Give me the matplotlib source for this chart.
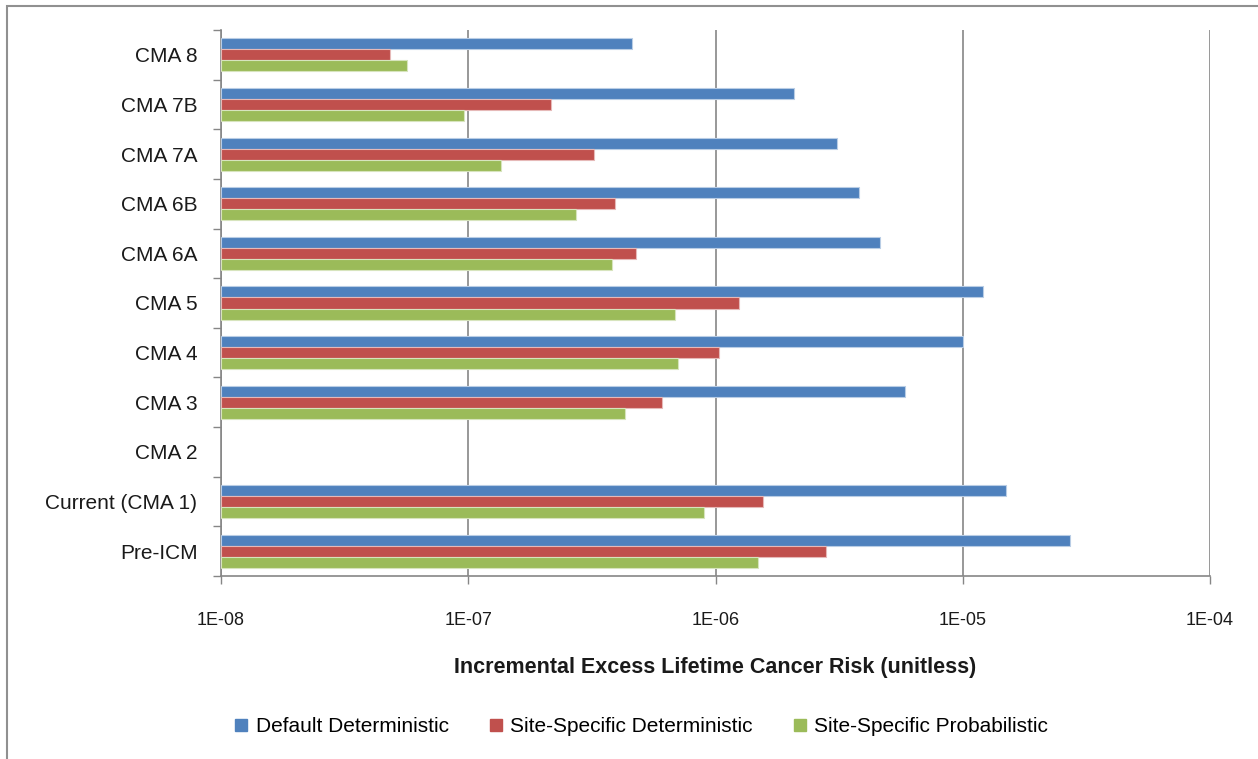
import matplotlib
matplotlib.use("Agg")
import matplotlib.pyplot as plt
import numpy as np
from matplotlib.patches import Rectangle
from matplotlib.lines import Line2D
from matplotlib.ticker import FixedLocator, NullFormatter

plt.rcParams['font.family'] = ['Liberation Sans', 'DejaVu Sans']

# Categories listed bottom to top
categories = ["Pre-ICM", "Current (CMA 1)", "CMA 2", "CMA 3", "CMA 4", "CMA 5",
              "CMA 6A", "CMA 6B", "CMA 7A", "CMA 7B", "CMA 8"]

default_det = [2.72e-5, 1.50e-5, np.nan, 5.86e-6, 1.0e-5, 1.205e-5,
               4.62e-6, 3.80e-6, 3.09e-6, 2.07e-6, 4.61e-7]
site_det = [2.80e-6, 1.55e-6, np.nan, 6.05e-7, 1.03e-6, 1.24e-6,
            4.77e-7, 3.94e-7, 3.23e-7, 2.17e-7, 4.82e-8]
site_prob = [1.49e-6, 9.0e-7, np.nan, 4.31e-7, 7.08e-7, 6.87e-7,
             3.83e-7, 2.72e-7, 1.36e-7, 9.6e-8, 5.67e-8]

series_names = ["Default Deterministic", "Site-Specific Deterministic",
                "Site-Specific Probabilistic"]
colors = ["#4F81BD", "#C0504D", "#9BBB59"]
edge_colors = ["#B9CDE5", "#E6B9B8", "#D7E4BD"]

xticks = [1e-8, 1e-7, 1e-6, 1e-5, 1e-4]
xtick_labels = ["1E-08", "1E-07", "1E-06", "1E-05", "1E-04"]
x_min, x_max = 1e-8, 1e-4

W, H = 1258, 759
fig = plt.figure(figsize=(W / 100, H / 100), dpi=100)
ax = fig.add_axes([221 / W, 1 - 576 / H, (1210 - 221) / W, (576 - 30) / H])

y = np.arange(len(categories))
h = 0.222
offsets = [h, 0, -h]
for vals, off, c, ec in zip([default_det, site_det, site_prob], offsets, colors, edge_colors):
    vals = np.array(vals, dtype=float)
    # bars start at the axis minimum and end at the value
    ax.barh(y + off, vals - x_min, height=h, left=x_min, color=c, edgecolor=ec,
            linewidth=0.8, zorder=3)

ax.set_xscale("log")
ax.set_xlim(x_min, x_max)
ax.set_ylim(-0.5, len(categories) - 0.5)

ax.set_xticks(xticks)
ax.set_xticklabels(xtick_labels, fontsize=13)
ax.xaxis.set_minor_locator(FixedLocator([]))
ax.tick_params(axis="x", which="major", length=6, width=1, color="#868686",
               pad=20, labelcolor="#1a1a1a")

ax.set_yticks(y)
ax.set_yticklabels(categories, fontsize=15)
ax.yaxis.set_minor_locator(FixedLocator(np.arange(-0.5, len(categories), 1.0)))
ax.yaxis.set_minor_formatter(NullFormatter())
ax.tick_params(axis="y", which="major", length=0, pad=17, labelcolor="#1a1a1a")
ax.tick_params(axis="y", which="minor", length=6, width=1, color="#868686")

ax.grid(axis="x", which="major", color="#868686", linewidth=1.2, zorder=0)
ax.set_axisbelow(True)

for side in ["top", "right"]:
    ax.spines[side].set_visible(False)
for side in ["left", "bottom"]:
    ax.spines[side].set_color("#868686")
    ax.spines[side].set_linewidth(1.2)

ax.set_xlabel("Incremental Excess Lifetime Cancer Risk (unitless)",
              fontsize=15.5, fontweight="bold", labelpad=20, color="#1a1a1a")

handles = [Line2D([0], [0], marker="s", linestyle="none", markersize=9,
                  markerfacecolor=c, markeredgecolor=c) for c in colors]
fig.legend(handles, series_names, loc="center", ncol=3, frameon=False,
           bbox_to_anchor=(641 / W, 1 - 727 / H), fontsize=15,
           handlelength=0.7, handletextpad=0.35, columnspacing=1.9)

# Chart area border
fig.patches.append(Rectangle((7 / W, -0.05), 1.2, 1 - 6 / H + 0.05,
                             transform=fig.transFigure, fill=False,
                             edgecolor="#909090", linewidth=1.5))

fig.savefig("out.png", dpi=100, facecolor="white")
